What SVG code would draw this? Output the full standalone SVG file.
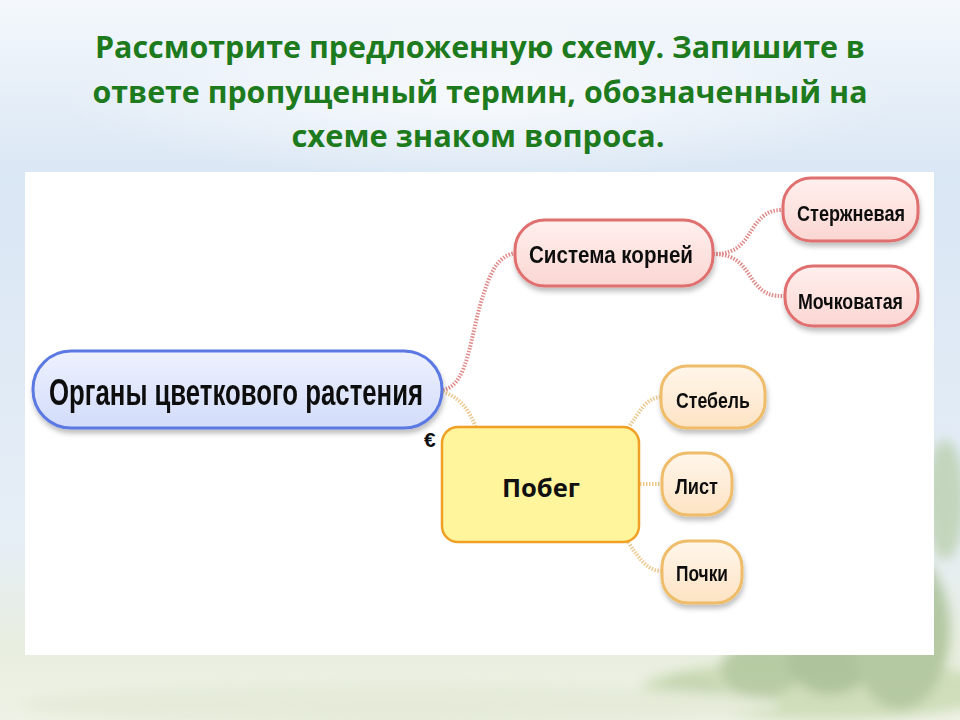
<svg xmlns="http://www.w3.org/2000/svg" width="960" height="720" viewBox="0 0 960 720">
  <defs>
    <linearGradient id="sky" x1="0" y1="0" x2="0" y2="1">
      <stop offset="0" stop-color="#f4f8fc"/>
      <stop offset="0.25" stop-color="#d9e6f4"/>
      <stop offset="0.75" stop-color="#e6eef6"/>
      <stop offset="0.9" stop-color="#e8eedf"/>
      <stop offset="1" stop-color="#eef2e6"/>
    </linearGradient>
    <radialGradient id="glow" cx="0.5" cy="0.5" r="0.5">
      <stop offset="0" stop-color="#ffffff" stop-opacity="0.7"/>
      <stop offset="1" stop-color="#ffffff" stop-opacity="0"/>
    </radialGradient>
    <linearGradient id="blueFill" x1="0" y1="0" x2="0" y2="1">
      <stop offset="0" stop-color="#eef1fe"/>
      <stop offset="1" stop-color="#d2dcfa"/>
    </linearGradient>
    <linearGradient id="redFill" x1="0" y1="0" x2="0" y2="1">
      <stop offset="0" stop-color="#fff0ee"/>
      <stop offset="1" stop-color="#fbd6d2"/>
    </linearGradient>
    <linearGradient id="orangeFill" x1="0" y1="0" x2="0" y2="1">
      <stop offset="0" stop-color="#fff6ea"/>
      <stop offset="1" stop-color="#fde3c4"/>
    </linearGradient>
    <filter id="shadow" x="-10%" y="-20%" width="120%" height="150%">
      <feDropShadow dx="1" dy="4" stdDeviation="2.5" flood-color="#000000" flood-opacity="0.25"/>
    </filter>
    <filter id="blur" x="-20%" y="-50%" width="140%" height="200%">
      <feGaussianBlur stdDeviation="6"/>
    </filter>
  </defs>
  <style>
    .title { font-family: "Open Sans", "Noto Sans", "Liberation Sans", sans-serif; font-weight: bold; font-size: 30px; fill: #1d7a1d; }
    .lbl { font-family: "Liberation Sans", "DejaVu Sans", sans-serif; font-weight: bold; fill: #111111; }
    .blue { fill: url(#blueFill); stroke: #5b78e2; stroke-width: 3; }
    .red { fill: url(#redFill); stroke: #e06f6f; stroke-width: 3; }
    .orange { fill: url(#orangeFill); stroke: #efbd6a; stroke-width: 3; }
    .yellow { fill: #fff59c; stroke: #f0a024; stroke-width: 2.5; }
    .lnRed { fill: none; stroke: #e08a8a; stroke-width: 4; stroke-dasharray: 1.5 1.5; }
    .lnTan { fill: none; stroke: #ecc98e; stroke-width: 4; stroke-dasharray: 1.5 1.5; }
  </style>

  <!-- background -->
  <rect x="0" y="0" width="960" height="720" fill="url(#sky)"/>
  <ellipse cx="480" cy="100" rx="420" ry="80" fill="url(#glow)"/>
  <g filter="url(#blur)" opacity="0.55">
    <ellipse cx="820" cy="690" rx="180" ry="30" fill="#b9cf9a"/>
    <ellipse cx="760" cy="670" rx="40" ry="28" fill="#8fae72"/>
    <ellipse cx="830" cy="655" rx="45" ry="40" fill="#7fa064"/>
    <ellipse cx="900" cy="630" rx="50" ry="80" fill="#89a96d"/>
    <ellipse cx="690" cy="690" rx="30" ry="15" fill="#a7c08a"/>
    <ellipse cx="400" cy="705" rx="380" ry="20" fill="#dfe7cf"/>
    <ellipse cx="945" cy="500" rx="20" ry="60" fill="#a9c28e"/>
  </g>

  <!-- title -->
  <text class="title" x="480" y="58" text-anchor="middle" textLength="770" lengthAdjust="spacingAndGlyphs">Рассмотрите предложенную схему. Запишите в</text>
  <text class="title" x="480" y="103" text-anchor="middle" textLength="775" lengthAdjust="spacingAndGlyphs">ответе пропущенный термин, обозначенный на</text>
  <text class="title" x="478" y="147" text-anchor="middle" textLength="373" lengthAdjust="spacingAndGlyphs">схеме знаком вопроса.</text>

  <!-- white panel -->
  <rect x="25" y="172" width="909" height="483" fill="#ffffff"/>

  <!-- connectors -->
  <g id="connectors">
    <path class="lnRed" d="M443,390 C470,385 470,330 485,290 C492,268 500,256 515,253"/>
    <path class="lnTan" d="M443,392 C458,396 470,410 476,428"/>
    <path class="lnRed" d="M713,254 C740,254 745,240 755,225 C765,212 772,210 783,210"/>
    <path class="lnRed" d="M713,254 C740,254 745,270 755,283 C765,295 772,296 785,296"/>
    <path class="lnTan" d="M628,428 C640,412 645,398 661,397"/>
    <path class="lnTan" d="M640,484 L662,484"/>
    <path class="lnTan" d="M628,542 C640,560 648,571 662,571"/>
  </g>

  <!-- nodes -->
  <g id="node-organs" filter="url(#shadow)">
    <rect class="blue" x="33" y="351" width="409" height="77" rx="38"/>
    <text class="lbl" x="49" y="405" font-size="36" textLength="374" lengthAdjust="spacingAndGlyphs">Органы цветкового растения</text>
  </g>

  <g id="node-root" filter="url(#shadow)">
    <rect class="red" x="515" y="220" width="198" height="66" rx="30"/>
    <text class="lbl" x="529" y="263" font-size="24" textLength="164" lengthAdjust="spacingAndGlyphs">Система корней</text>
  </g>

  <g id="node-taproot" filter="url(#shadow)">
    <rect class="red" x="783" y="178" width="135" height="63" rx="28"/>
    <text class="lbl" x="797" y="221" font-size="22" textLength="108" lengthAdjust="spacingAndGlyphs">Стержневая</text>
  </g>

  <g id="node-fibrous" filter="url(#shadow)">
    <rect class="red" x="785" y="266" width="133" height="60" rx="28"/>
    <text class="lbl" x="798" y="309" font-size="22" textLength="105" lengthAdjust="spacingAndGlyphs">Мочковатая</text>
  </g>

  <g id="node-shoot">
    <rect class="yellow" x="442" y="427" width="197" height="115" rx="16"/>
    <text x="541" y="497" text-anchor="middle" font-family="'Open Sans', 'Noto Sans', 'Liberation Sans', sans-serif" font-weight="bold" font-size="25" fill="#111111" textLength="78" lengthAdjust="spacingAndGlyphs">Побег</text>
  </g>

  <g id="node-stem" filter="url(#shadow)">
    <rect class="orange" x="661" y="366" width="104" height="62" rx="26"/>
    <text class="lbl" x="676" y="408" font-size="22" textLength="74" lengthAdjust="spacingAndGlyphs">Стебель</text>
  </g>

  <g id="node-leaf" filter="url(#shadow)">
    <rect class="orange" x="662" y="453" width="70" height="62" rx="26"/>
    <text class="lbl" x="675" y="494" font-size="22" textLength="43" lengthAdjust="spacingAndGlyphs">Лист</text>
  </g>

  <g id="node-buds" filter="url(#shadow)">
    <rect class="orange" x="662" y="541" width="80" height="62" rx="26"/>
    <text class="lbl" x="676" y="581" font-size="22" textLength="52" lengthAdjust="spacingAndGlyphs">Почки</text>
  </g>

  <text x="424" y="447" font-family="'Liberation Sans', sans-serif" font-weight="bold" font-size="21" fill="#111111">€</text>
</svg>
